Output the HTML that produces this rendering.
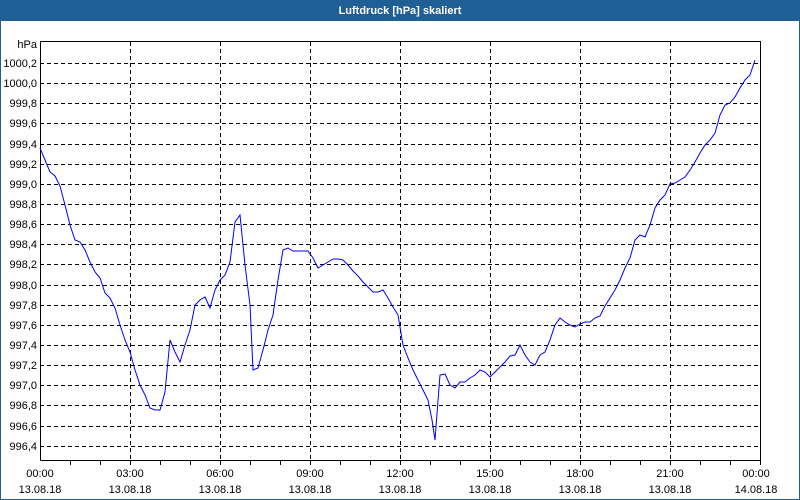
<!DOCTYPE html>
<html><head><meta charset="utf-8"><style>
html,body{margin:0;padding:0;background:#fff;}
svg{display:block;}
text{font-family:"Liberation Sans",sans-serif;font-size:11px;fill:#000;}
</style></head><body>
<svg width="800" height="500" xmlns="http://www.w3.org/2000/svg">
<rect x="0" y="0" width="800" height="500" fill="#fff"/>
<rect x="0" y="0" width="800" height="21" fill="#1f5f96"/>
<rect x="0" y="0" width="1" height="500" fill="#1f5f96"/>
<rect x="799" y="0" width="1" height="500" fill="#1f5f96"/>
<rect x="0" y="499" width="800" height="1" fill="#1f5f96"/>
<text x="400" y="14" text-anchor="middle" style="fill:#fff;font-weight:bold;">Luftdruck [hPa] skaliert</text>
<g stroke="#000" stroke-width="1" stroke-dasharray="4,3" fill="none">
<path d="M40 63.5H760M40 83.5H760M40 103.5H760M40 123.5H760M40 144.5H760M40 164.5H760M40 184.5H760M40 204.5H760M40 224.5H760M40 244.5H760M40 264.5H760M40 285.5H760M40 305.5H760M40 325.5H760M40 345.5H760M40 365.5H760M40 385.5H760M40 405.5H760M40 426.5H760M40 446.5H760"/>
<path d="M130.5 42V460M220.5 42V460M310.5 42V460M400.5 42V460M490.5 42V460M580.5 42V460M670.5 42V460"/>
</g>
<path d="M40.5 460.5V41.5H760.5V460.5H40.5" stroke="#000" fill="none"/>
<g stroke="#000">
<path d="M70.5 460V465M100.5 460V465M130.5 460V465M160.5 460V465M190.5 460V465M220.5 460V465M250.5 460V465M280.5 460V465M310.5 460V465M340.5 460V465M370.5 460V465M400.5 460V465M430.5 460V465M460.5 460V465M490.5 460V465M520.5 460V465M550.5 460V465M580.5 460V465M610.5 460V465M640.5 460V465M670.5 460V465M700.5 460V465M730.5 460V465M760.5 460V465"/>
</g>
<g text-anchor="end">
<text x="37" y="48">hPa</text>
<text x="37" y="67">1000,2</text><text x="37" y="87">1000,0</text><text x="37" y="107">999,8</text>
<text x="37" y="127">999,6</text><text x="37" y="148">999,4</text><text x="37" y="168">999,2</text>
<text x="37" y="188">999,0</text><text x="37" y="208">998,8</text><text x="37" y="228">998,6</text>
<text x="37" y="248">998,4</text><text x="37" y="268">998,2</text><text x="37" y="289">998,0</text>
<text x="37" y="309">997,8</text><text x="37" y="329">997,6</text><text x="37" y="349">997,4</text>
<text x="37" y="369">997,2</text><text x="37" y="389">997,0</text><text x="37" y="409">996,8</text>
<text x="37" y="430">996,6</text><text x="37" y="450">996,4</text>
</g>
<g text-anchor="middle">
<text x="40" y="477">00:00</text><text x="40" y="493">13.08.18</text>
<text x="130" y="477">03:00</text><text x="130" y="493">13.08.18</text>
<text x="220" y="477">06:00</text><text x="220" y="493">13.08.18</text>
<text x="310" y="477">09:00</text><text x="310" y="493">13.08.18</text>
<text x="400" y="477">12:00</text><text x="400" y="493">13.08.18</text>
<text x="490" y="477">15:00</text><text x="490" y="493">13.08.18</text>
<text x="580" y="477">18:00</text><text x="580" y="493">13.08.18</text>
<text x="670" y="477">21:00</text><text x="670" y="493">13.08.18</text>
<text x="756" y="477">00:00</text><text x="756" y="493">14.08.18</text>
</g>
<polyline fill="none" stroke="#0000ff" stroke-width="1" points="40,148 45,160 50,172 55,176 60,186 65,205 70,225 75,240 80,242 85,250 90,262 95,272 100,278 105,293 110,298 115,308 120,325 125,340 130,352 135,370 140,385 145,395 150,408 155,410 160,410 165,392 170,340 175,352 180,362 185,345 190,330 195,305 200,300 205,297 210,308 215,290 220,280 225,275 230,262 235,222 240,215 245,265 250,305 253,370 258,368 263,350 268,330 273,315 278,280 283,250 288,248 293,251 298,251 303,251 308,251 313,258 318,268 323,265 328,262 333,259 338,259 343,260 348,265 353,271 358,276 363,282 368,287 373,292 378,292 383,290 388,298 393,307 398,315 403,345 408,358 413,370 418,380 423,390 428,400 432,420 435,440 440,375 445,374 450,385 455,388 460,382 465,382 470,378 475,375 480,370 485,372 490,377 495,372 500,367 505,362 510,356 515,355 520,345 525,355 530,362 535,365 540,355 545,352 550,340 555,325 560,318 565,322 570,325 575,327 580,324 585,322 590,322 595,318 600,316 605,306 610,298 615,290 620,280 625,268 630,258 635,240 640,235 645,237 650,225 655,208 660,200 665,195 670,184 675,183 680,180 685,177 690,170 695,162 700,153 705,145 710,140 715,133 720,115 725,105 730,103 735,97 740,88 745,80 750,75 755,60"/>
</svg>
</body></html>
